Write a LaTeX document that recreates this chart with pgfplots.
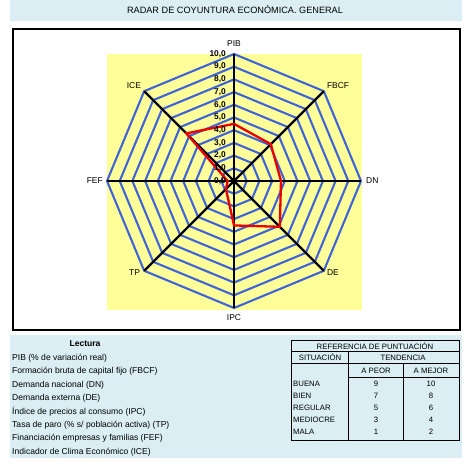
\documentclass[border=0pt]{standalone}
\usepackage{fontspec}
\setmainfont{Liberation Sans}
\usepackage{pgfplots}
\pgfplotsset{compat=1.18}
\usepgfplotslibrary{polar}
\definecolor{bgblue}{RGB}{218,238,243}
\definecolor{ylw}{RGB}{255,255,153}
\definecolor{ringblue}{RGB}{62,100,215}
\definecolor{datared}{RGB}{235,0,0}
\begin{document}
\begin{tikzpicture}
\begin{scope}[x=1bp,y=1bp]
\fill[white] (0,0) rectangle (472,468);
\fill[bgblue] (10,447) rectangle (462,468);
\node[font=\fontsize{9.2}{11}\selectfont] at (235,458.5) {RADAR DE COYUNTURA ECONÓMICA. GENERAL};
\draw[line width=2bp, fill=white] (12.5,439) rectangle (459.5,137.5);
\fill[bgblue] (10,10) rectangle (462,133);
\fill[ylw] (107,414) rectangle (362,158);
% Lectura
\begin{scope}[every node/.style={font=\fontsize{8.6}{10}\selectfont, inner sep=0pt}]
\node[font=\fontsize{8.6}{10}\selectfont\bfseries] at (85,124) {Lectura};
\node[anchor=west] at (12,110) {PIB (\% de variación real)};
\node[anchor=west] at (12,96.6) {Formación bruta de capital fijo (FBCF)};
\node[anchor=west] at (12,83.2) {Demanda nacional (DN)};
\node[anchor=west] at (12,69.8) {Demanda externa (DE)};
\node[anchor=west] at (12,56.4) {Índice de precios al consumo (IPC)};
\node[anchor=west] at (12,43) {Tasa de paro (\% s/ población activa) (TP)};
\node[anchor=west] at (12,29.6) {Financiación empresas y familias (FEF)};
\node[anchor=west] at (12,16.2) {Indicador de Clima Económico (ICE)};
\end{scope}
% table
\begin{scope}[every node/.style={font=\fontsize{7.8}{9}\selectfont, inner sep=0pt}]
\draw[line width=0.6bp] (291.5,128) rectangle (459,28);
\draw[line width=0.6bp] (291.5,116.5) -- (459,116.5);
\draw[line width=0.6bp] (291.5,104.5) -- (459,104.5);
\draw[line width=0.6bp] (348,91) -- (459,91);
\draw[line width=0.6bp] (348,116.5) -- (348,28);
\draw[line width=0.6bp] (403,104.5) -- (403,28);
\node at (375,122) {REFERENCIA DE PUNTUACIÓN};
\node at (320,110.5) {SITUACIÓN};
\node at (403,110.5) {TENDENCIA};
\node at (376,97.5) {A PEOR};
\node at (431,97.5) {A MEJOR};
\node[anchor=west] at (293,84) {BUENA};
\node[anchor=west] at (293,72) {BIEN};
\node[anchor=west] at (293,60) {REGULAR};
\node[anchor=west] at (293,48) {MEDIOCRE};
\node[anchor=west] at (293,36) {MALA};
\node at (376,84) {9};  \node at (431,84) {10};
\node at (376,72) {7};  \node at (431,72) {8};
\node at (376,60) {5};  \node at (431,60) {6};
\node at (376,48) {3};  \node at (431,48) {4};
\node at (376,36) {1};  \node at (431,36) {2};
\end{scope}
\end{scope}
\begin{polaraxis}[
  at={(234bp,287bp)}, anchor=origin,
  hide axis, scale only axis, width=254bp, height=254bp,
  xmin=0, xmax=360, ymin=0, ymax=10, clip=false,
  every axis plot/.append style={line join=miter},
]
\pgfplotsinvokeforeach{1,...,10}{
  \addplot[ringblue, line width=2.1bp, mark=none] coordinates {(0,#1)(45,#1)(90,#1)(135,#1)(180,#1)(225,#1)(270,#1)(315,#1)(360,#1)};
}
\addplot[black, line width=2.4bp, mark=none] coordinates {(0,10)(0,0)(180,10)};
\addplot[black, line width=2.4bp, mark=none] coordinates {(45,10)(0,0)(225,10)};
\addplot[black, line width=2.4bp, mark=none] coordinates {(90,10)(0,0)(270,10)};
\addplot[black, line width=2.4bp, mark=none] coordinates {(135,10)(0,0)(315,10)};
\addplot[datared, line width=2.3bp, mark=none] coordinates {(90,4.5)(45,4.1)(0,3.7)(315,5.1)(270,3.5)(225,0.9)(180,0.5)(135,5.3)(90,4.5)};
\pgfplotsinvokeforeach{0,...,10}{
  \node[anchor=east, inner sep=0pt, xshift=-8bp, font=\fontsize{8.4}{9}\selectfont\bfseries] at (axis cs:90,#1) {#1,0};
}
\begin{scope}[every node/.style={font=\fontsize{8.5}{10}\selectfont, inner sep=0pt}]
\node[anchor=south, yshift=7bp] at (axis cs:90,10) {PIB};
\node[anchor=south west, xshift=3bp, yshift=2bp] at (axis cs:45,10) {FBCF};
\node[anchor=west, xshift=5bp] at (axis cs:0,10) {DN};
\node[anchor=north west, xshift=3bp, yshift=1bp] at (axis cs:315,10) {DE};
\node[anchor=north, yshift=-6bp] at (axis cs:270,10) {IPC};
\node[anchor=north east, xshift=-4bp, yshift=1bp] at (axis cs:225,10) {TP};
\node[anchor=east, xshift=-4bp] at (axis cs:180,10) {FEF};
\node[anchor=south east, xshift=-3bp, yshift=2bp] at (axis cs:135,10) {ICE};
\end{scope}
\end{polaraxis}
\end{tikzpicture}
\end{document}
